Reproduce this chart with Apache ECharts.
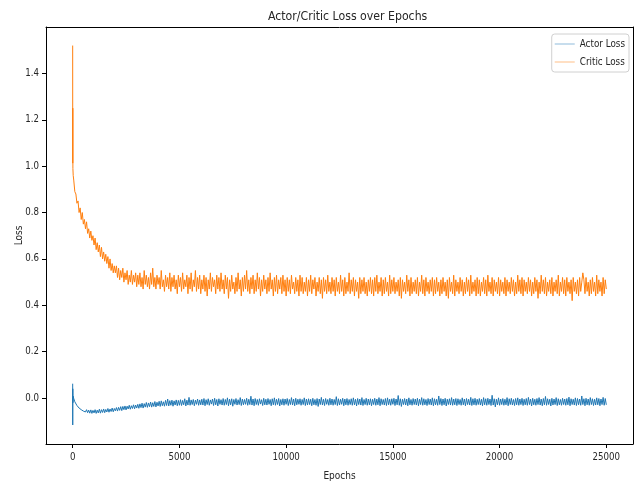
<!DOCTYPE html>
<html>
<head>
<meta charset="utf-8">
<script src="https://cdn.jsdelivr.net/npm/echarts@6/dist/echarts.min.js"></script>
<style>
html,body{margin:0;padding:0;background:#fff;}
#chart{width:639px;height:483px;}
</style>
</head>
<body>
<div id="chart"></div>
<script>
// ---- data ----
const titleText = 'Actor/Critic Loss over Epochs';
const xName = 'Epochs';
const yName = 'Loss';
const seriesNames = ['Actor Loss', 'Critic Loss'];
const xTicks = [0, 5000, 10000, 15000, 20000, 25000];
const yTicks = [0.0, 0.2, 0.4, 0.6, 0.8, 1.0, 1.2, 1.4];

// very first epochs (initial spikes)
const startEpochs = [0, 2, 5, 10, 25];
const startActor  = [0.062, -0.116, 0.040, -0.020, 0.008];
const startCritic = [1.52, 1.013, 1.25, 0.99, 0.96];

// afterwards, one sample every 50 epochs: 50, 100, ..., 25000
const sampleStep = 50;
const actorLoss = [
-0.002,-0.016,-0.018,-0.032,-0.030,-0.043,-0.038,-0.050,-0.044,-0.056,-0.048,-0.060,-0.050,-0.063,-0.052,-0.065,-0.051,-0.066,-0.053,-0.064,
-0.050,-0.066,-0.052,-0.064,-0.048,-0.065,-0.050,-0.062,-0.047,-0.063,-0.049,-0.060,-0.045,-0.061,-0.047,-0.058,-0.043,-0.059,-0.045,-0.055,
-0.041,-0.056,-0.040,-0.053,-0.037,-0.054,-0.036,-0.050,-0.034,-0.051,-0.035,-0.047,-0.031,-0.048,-0.033,-0.045,-0.029,-0.046,-0.030,-0.043,
-0.027,-0.044,-0.025,-0.041,-0.022,-0.043,-0.024,-0.039,-0.019,-0.040,-0.021,-0.037,-0.017,-0.039,-0.020,-0.036,-0.015,-0.038,-0.018,-0.034,
-0.014,-0.036,-0.012,-0.033,-0.016,-0.035,-0.010,-0.032,-0.004,-0.034,-0.011,-0.031,-0.009,-0.035,-0.012,-0.030,-0.008,-0.033,-0.010,-0.031,
-0.007,-0.032,-0.010,-0.029,-0.003,-0.034,-0.009,-0.030,0.003,-0.031,-0.008,-0.028,-0.006,-0.033,-0.009,-0.027,-0.004,-0.031,-0.008,-0.029,
-0.005,-0.030,-0.002,-0.033,-0.007,-0.028,-0.003,-0.031,-0.008,-0.026,-0.004,-0.032,-0.001,-0.029,-0.006,-0.034,-0.003,-0.027,-0.007,-0.030,
-0.002,-0.031,-0.006,-0.028,0.001,-0.033,-0.005,-0.029,-0.003,-0.035,-0.006,-0.027,-0.002,-0.030,-0.007,-0.028,0.002,-0.032,-0.004,-0.029,
-0.006,-0.027,-0.001,-0.031,-0.005,-0.028,0.008,-0.030,-0.004,-0.033,-0.002,-0.028,-0.006,-0.031,-0.003,-0.026,-0.007,-0.032,-0.001,-0.029,
-0.005,-0.030,-0.002,-0.027,-0.006,-0.033,-0.003,-0.029,0.001,-0.031,-0.005,-0.028,-0.002,-0.034,-0.006,-0.029,-0.003,-0.031,-0.004,-0.027,
-0.002,-0.032,-0.006,-0.028,0.002,-0.030,-0.004,-0.033,-0.001,-0.029,-0.005,-0.027,-0.003,-0.031,-0.006,-0.028,0.001,-0.032,-0.004,-0.030,
-0.003,-0.028,-0.005,-0.033,-0.001,-0.029,-0.006,-0.031,-0.002,-0.036,-0.004,-0.028,0.003,-0.030,-0.005,-0.032,-0.002,-0.027,-0.006,-0.031,
-0.001,-0.029,-0.004,-0.031,-0.006,-0.028,0.006,-0.032,-0.003,-0.030,-0.005,-0.027,-0.001,-0.033,-0.004,-0.029,-0.002,-0.031,-0.006,-0.028,
-0.003,-0.031,0.001,-0.029,-0.005,-0.034,-0.002,-0.028,-0.004,-0.030,0.002,-0.032,-0.006,-0.028,-0.001,-0.031,-0.004,-0.029,-0.003,-0.033,
-0.005,-0.028,-0.001,-0.031,-0.004,-0.029,0.002,-0.033,-0.003,-0.028,-0.006,-0.030,-0.002,-0.032,0.001,-0.029,-0.005,-0.031,-0.003,-0.027,
-0.001,-0.032,-0.004,-0.029,0.011,-0.031,-0.003,-0.036,-0.005,-0.028,-0.002,-0.030,-0.004,-0.033,0.001,-0.029,-0.006,-0.031,-0.002,-0.028,
-0.004,-0.030,-0.001,-0.033,-0.005,-0.028,0.002,-0.031,-0.003,-0.029,-0.006,-0.032,-0.002,-0.028,-0.004,-0.030,0.001,-0.033,-0.003,-0.029,
-0.005,-0.031,0.009,-0.028,-0.002,-0.032,-0.004,-0.029,-0.001,-0.034,-0.005,-0.028,-0.003,-0.030,0.002,-0.031,-0.004,-0.029,-0.002,-0.032,
-0.003,-0.028,-0.006,-0.031,0.001,-0.029,-0.004,-0.033,-0.002,-0.028,-0.005,-0.030,0.003,-0.032,-0.003,-0.029,-0.001,-0.031,-0.005,-0.028,
-0.002,-0.030,-0.005,-0.033,0.002,-0.029,-0.003,-0.031,-0.001,-0.028,-0.004,-0.032,0.012,-0.030,-0.003,-0.038,-0.005,-0.029,0.001,-0.031,
-0.004,-0.028,-0.002,-0.031,-0.005,-0.029,0.002,-0.033,-0.003,-0.028,-0.001,-0.030,-0.006,-0.032,-0.002,-0.029,0.001,-0.031,-0.004,-0.028,
-0.001,-0.032,-0.005,-0.029,-0.002,-0.031,0.003,-0.028,-0.004,-0.034,-0.001,-0.029,-0.005,-0.031,-0.002,-0.028,0.002,-0.030,-0.004,-0.033,
-0.002,-0.029,0.007,-0.031,-0.003,-0.028,-0.005,-0.034,-0.001,-0.030,-0.004,-0.028,0.002,-0.032,-0.003,-0.029,-0.006,-0.031,-0.001,-0.028,
-0.004,-0.031,-0.002,-0.029,0.004,-0.033,-0.003,-0.028,-0.005,-0.030,0.001,-0.032,-0.002,-0.029,-0.004,-0.031,0.009,-0.028,-0.003,-0.033,
-0.001,-0.029,-0.004,-0.031,0.002,-0.028,-0.003,-0.032,-0.005,-0.030,0.001,-0.029,-0.002,-0.033,-0.004,-0.028,0.003,-0.031,-0.002,-0.029
];
const criticLoss = [
0.94,0.89,0.88,0.84,0.85,0.80,0.82,0.77,0.80,0.75,0.77,0.73,0.76,0.71,0.73,0.69,0.72,0.68,0.70,0.66,
0.69,0.64,0.67,0.63,0.66,0.61,0.65,0.60,0.63,0.59,0.62,0.58,0.61,0.56,0.60,0.55,0.58,0.54,0.57,0.54,
0.57,0.52,0.56,0.51,0.55,0.52,0.56,0.50,0.54,0.51,0.55,0.49,0.53,0.50,0.55,0.49,0.53,0.50,0.54,0.48,
0.53,0.49,0.54,0.48,0.52,0.47,0.55,0.49,0.53,0.48,0.52,0.47,0.54,0.49,0.56,0.48,0.52,0.47,0.53,0.49,
0.52,0.47,0.55,0.48,0.51,0.46,0.53,0.48,0.52,0.47,0.54,0.46,0.52,0.48,0.53,0.47,0.51,0.45,0.53,0.48,
0.52,0.46,0.54,0.47,0.51,0.48,0.53,0.45,0.52,0.47,0.54,0.46,0.51,0.48,0.55,0.46,0.52,0.47,0.53,0.45,
0.51,0.47,0.53,0.46,0.52,0.44,0.51,0.47,0.54,0.46,0.52,0.48,0.51,0.45,0.53,0.47,0.52,0.46,0.54,0.47,
0.51,0.45,0.53,0.47,0.52,0.43,0.51,0.46,0.53,0.47,0.50,0.45,0.52,0.46,0.54,0.47,0.51,0.44,0.52,0.46,
0.53,0.47,0.55,0.46,0.51,0.45,0.52,0.47,0.53,0.45,0.51,0.46,0.54,0.47,0.52,0.44,0.51,0.46,0.53,0.47,
0.51,0.45,0.52,0.46,0.54,0.47,0.51,0.44,0.52,0.46,0.53,0.45,0.51,0.47,0.52,0.45,0.53,0.46,0.51,0.44,
0.52,0.46,0.51,0.45,0.53,0.47,0.50,0.45,0.52,0.46,0.51,0.44,0.53,0.46,0.52,0.45,0.50,0.46,0.52,0.44,
0.51,0.46,0.53,0.45,0.51,0.47,0.52,0.44,0.50,0.46,0.52,0.45,0.51,0.43,0.52,0.46,0.51,0.45,0.53,0.46,
0.50,0.45,0.52,0.46,0.51,0.44,0.52,0.46,0.50,0.45,0.53,0.46,0.51,0.44,0.52,0.45,0.50,0.46,0.54,0.45,
0.51,0.46,0.52,0.44,0.51,0.46,0.50,0.43,0.52,0.45,0.51,0.46,0.52,0.45,0.50,0.44,0.51,0.46,0.52,0.45,
0.51,0.44,0.52,0.46,0.53,0.45,0.50,0.46,0.52,0.44,0.51,0.45,0.52,0.46,0.50,0.44,0.53,0.45,0.51,0.46,
0.52,0.45,0.50,0.46,0.51,0.44,0.52,0.43,0.51,0.46,0.50,0.45,0.53,0.46,0.51,0.44,0.52,0.45,0.50,0.46,
0.51,0.45,0.52,0.44,0.50,0.46,0.53,0.45,0.51,0.44,0.52,0.46,0.50,0.45,0.51,0.46,0.52,0.44,0.51,0.45,
0.52,0.46,0.50,0.44,0.51,0.45,0.52,0.46,0.50,0.44,0.51,0.43,0.52,0.46,0.50,0.45,0.53,0.44,0.51,0.46,
0.50,0.45,0.52,0.46,0.51,0.44,0.50,0.45,0.52,0.46,0.51,0.44,0.53,0.45,0.50,0.46,0.51,0.44,0.52,0.45,
0.51,0.44,0.50,0.46,0.52,0.45,0.51,0.44,0.53,0.46,0.50,0.45,0.52,0.44,0.51,0.46,0.50,0.45,0.52,0.44,
0.51,0.46,0.50,0.45,0.52,0.44,0.51,0.46,0.50,0.45,0.52,0.46,0.51,0.44,0.50,0.45,0.53,0.46,0.51,0.45,
0.52,0.44,0.51,0.46,0.50,0.45,0.52,0.46,0.51,0.44,0.50,0.45,0.52,0.46,0.51,0.43,0.50,0.45,0.53,0.46,
0.51,0.45,0.52,0.44,0.50,0.46,0.51,0.45,0.52,0.44,0.50,0.46,0.51,0.45,0.53,0.44,0.50,0.46,0.52,0.45,
0.51,0.44,0.52,0.46,0.50,0.45,0.51,0.42,0.52,0.46,0.50,0.45,0.51,0.44,0.52,0.46,0.50,0.54,0.51,0.45,
0.52,0.46,0.50,0.44,0.51,0.45,0.52,0.46,0.50,0.44,0.53,0.45,0.51,0.46,0.50,0.44,0.52,0.45,0.51,0.47
];

// ---- build series data ----
function buildSeries(startVals, vals) {
  const out = startEpochs.map((e, i) => [e, startVals[i]]);
  vals.forEach((v, i) => out.push([(i + 1) * sampleStep, v]));
  return out;
}
const actorData = buildSeries(startActor, actorLoss);
const criticData = buildSeries(startCritic, criticLoss);

const FONT = "'DejaVu Sans Condensed', 'DejaVu Sans', sans-serif";
const TXT = '#262626';
const X_MIN = -1250, X_MAX = 26250, Y_MIN = -0.198, Y_MAX = 1.6;

const chart = echarts.init(document.getElementById('chart'), null, { renderer: 'canvas' });
chart.setOption({
  animation: false,
  backgroundColor: '#ffffff',
  textStyle: { fontFamily: FONT },
  title: {
    text: titleText,
    left: 263, top: 6,
    textStyle: { fontFamily: FONT, fontSize: 12.2, fontWeight: 'normal', color: TXT }
  },
  grid: {
    left: 46, right: 6, top: 27, bottom: 39,
    outerBoundsMode: 'none', containLabel: false
  },
  legend: {
    orient: 'vertical',
    right: 10, top: 34,
    itemWidth: 20, itemHeight: 1,
    itemGap: 8,
    padding: [5, 4, 5, 3],
    borderColor: '#d0d0d0', borderWidth: 1, borderRadius: 3,
    backgroundColor: 'rgba(255,255,255,0.85)',
    icon: 'rect',
    textStyle: { fontFamily: FONT, fontSize: 9.8, color: TXT, padding: [0, 0, 0, 0] },
    data: [
      { name: seriesNames[0], itemStyle: { color: '#8fbbda' } },
      { name: seriesNames[1], itemStyle: { color: '#ffbf86' } }
    ]
  },
  xAxis: [{
    type: 'value',
    min: X_MIN, max: X_MAX,
    name: xName, nameLocation: 'middle', nameGap: 27, nameMoveOverlap: false,
    nameTextStyle: { fontFamily: FONT, fontSize: 10, color: TXT },
    axisLine: { show: true, onZero: false, lineStyle: { color: '#000', width: 1 } },
    axisTick: { show: true, inside: false, length: 4, customValues: xTicks, lineStyle: { color: '#000' } },
    axisLabel: { customValues: xTicks, margin: 8, fontFamily: FONT, fontSize: 9.6, color: TXT,
      formatter: v => String(v) },
    splitLine: { show: false }
  }, {
    type: 'value', position: 'top',
    min: X_MIN, max: X_MAX,
    axisLine: { show: true, onZero: false, lineStyle: { color: '#000', width: 1 } },
    axisTick: { show: false }, axisLabel: { show: false }, splitLine: { show: false }
  }],
  yAxis: [{
    type: 'value',
    min: Y_MIN, max: Y_MAX,
    name: yName, nameLocation: 'middle', nameGap: 22, nameRotate: 90, nameMoveOverlap: false,
    nameTextStyle: { fontFamily: FONT, fontSize: 10, color: TXT },
    axisLine: { show: true, onZero: false, lineStyle: { color: '#000', width: 1 } },
    axisTick: { show: true, inside: false, length: 4, customValues: yTicks, lineStyle: { color: '#000' } },
    axisLabel: { customValues: yTicks, margin: 7, fontFamily: FONT, fontSize: 9.6, color: TXT,
      formatter: v => v.toFixed(1) },
    splitLine: { show: false }
  }, {
    type: 'value', position: 'right',
    min: Y_MIN, max: Y_MAX,
    axisLine: { show: true, onZero: false, lineStyle: { color: '#000', width: 1 } },
    axisTick: { show: false }, axisLabel: { show: false }, splitLine: { show: false }
  }],
  series: [
    {
      name: seriesNames[0], type: 'line', data: actorData,
      xAxisIndex: 0, yAxisIndex: 0,
      showSymbol: false, symbol: 'none', smooth: false,
      lineStyle: { color: '#1f77b4', width: 1 }, itemStyle: { color: '#1f77b4' },
      z: 3
    },
    {
      name: seriesNames[1], type: 'line', data: criticData,
      xAxisIndex: 0, yAxisIndex: 0,
      showSymbol: false, symbol: 'none', smooth: false,
      lineStyle: { color: '#ff7f0e', width: 1 }, itemStyle: { color: '#ff7f0e' },
      z: 3
    }
  ]
});
</script>
</body>
</html>
